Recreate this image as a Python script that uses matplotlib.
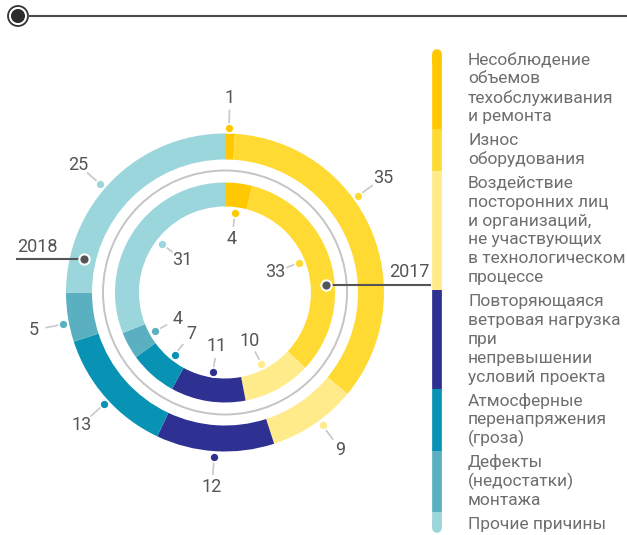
import numpy as np
import matplotlib
matplotlib.use("Agg")
import matplotlib.pyplot as plt
from matplotlib.patches import Circle

plt.rcParams['font.family'] = ['Roboto', 'DejaVu Sans']

# data
causes = ["Несоблюдение\nобъемов\nтехобслуживания\nи ремонта",
          "Износ\nоборудования",
          "Воздействие\nпосторонних лиц\nи организаций,\nне участвующих\nв технологическом\nпроцессе",
          "Повторяющаяся\nветровая нагрузка\nпри\nнепревышении\nусловий проекта",
          "Атмосферные\nперенапряжения\n(гроза)",
          "Дефекты\n(недостатки)\nмонтажа",
          "Прочие причины"]
vals_2018 = [1, 35, 9, 12, 13, 5, 25]
vals_2017 = [4, 33, 10, 11, 7, 4, 31]
colors = ["#FFC800", "#FFDA33", "#FFEB8A", "#2E3192", "#0892B4", "#5AAFC0", "#9BD6DC"]

# label placement (degrees clockwise from top)
ang_2018 = [1.4, 54, 143.7, 183.8, 227.3, 258.9, 311]
ang_2017 = [7.2, 68, 153, 188.6, 219, 241, 307.6]

W, H = 627, 535
fig = plt.figure(figsize=(W / 100, H / 100), dpi=100)
ax = fig.add_axes([0, 0, 1, 1])

cx, cy = 225, H - 292.5
R_out, w_out = 159, 26
R_in, w_in = 110, 24

ax.pie(vals_2018, radius=R_out, center=(cx, cy), startangle=90, counterclock=False,
       colors=colors, wedgeprops=dict(width=w_out, linewidth=0))
ax.pie(vals_2017, radius=R_in, center=(cx, cy), startangle=90, counterclock=False,
       colors=colors, wedgeprops=dict(width=w_in, linewidth=0))
ax.add_patch(Circle((cx, cy), 122, fill=False, ec="#C4C4C4", lw=1.4))


def pt(r, a):
    t = np.radians(a)
    return cx + r * np.sin(t), cy + r * np.cos(t)


def label(v, a, col, r_dot, r_line, r_txt):
    x0, y0 = pt(r_dot, a)
    x1, y1 = pt(r_line, a)
    xt, yt = pt(r_txt, a)
    ax.plot([x0, x1], [y0, y1], color="#C8C8C8", lw=1.2, zorder=3)
    ax.scatter([x0], [y0], s=42, color=col, edgecolor="white", linewidth=1.2, zorder=4)
    ax.text(xt, yt, str(v), ha="center", va="center", fontsize=13, color="#555555")


for v, a, c in zip(vals_2018, ang_2018, colors):
    label(v, a, c, 165, 182, 195)
for v, a, c in zip(vals_2017, ang_2017, colors):
    label(v, a, c, 80, 67, 54)

# year markers
ax.plot([17, 84], [H - 259, H - 259], color="#555555", lw=1.5, zorder=3)
ax.scatter([84], [H - 259], s=55, color="#555555", edgecolor="white", linewidth=1.5, zorder=5)
ax.text(17, H - 247, "2018", ha="left", va="center", fontsize=13, color="#555555")
ax.plot([326, 430], [H - 285, H - 285], color="#555555", lw=1.5, zorder=3)
ax.scatter([326], [H - 285], s=55, color="#555555", edgecolor="white", linewidth=1.5, zorder=5)
ax.text(430, H - 272, "2017", ha="right", va="center", fontsize=13, color="#555555")

# legend
y = 60
step, gap = 18.9, 23.8
bounds = []
for i, (txt, c) in enumerate(zip(causes, colors)):
    lines = txt.split("\n")
    top = y
    for ln in lines:
        ax.text(468, H - y, ln, ha="left", va="center", fontsize=12.5, color="#6E6E6E")
        y += step
    last = y - step
    bounds.append((top, last))
    y = last + gap
for i, c in enumerate(colors):
    t = 55 if i == 0 else (bounds[i - 1][1] + bounds[i][0]) / 2
    b = 527 if i == len(colors) - 1 else (bounds[i][1] + bounds[i + 1][0]) / 2
    ax.plot([437, 437], [H - t, H - b], color=c, lw=7, solid_capstyle="butt")
# rounded ends
ax.plot([437, 437], [H - 54, H - 60], color=colors[0], lw=7, solid_capstyle="round")
ax.plot([437, 437], [H - 522, H - 528], color=colors[-1], lw=7, solid_capstyle="round")

# header
ax.plot([28, W], [H - 16, H - 16], color="#4A4A4A", lw=1.5)
ax.add_patch(Circle((18, H - 16), 10, fill=False, ec="#333333", lw=1.3))
ax.add_patch(Circle((18, H - 16), 6.3, color="#2B2B2B"))

ax.set_xlim(0, W)
ax.set_ylim(0, H)
ax.set_aspect("auto")
ax.axis("off")

fig.savefig("out.png", dpi=100)
